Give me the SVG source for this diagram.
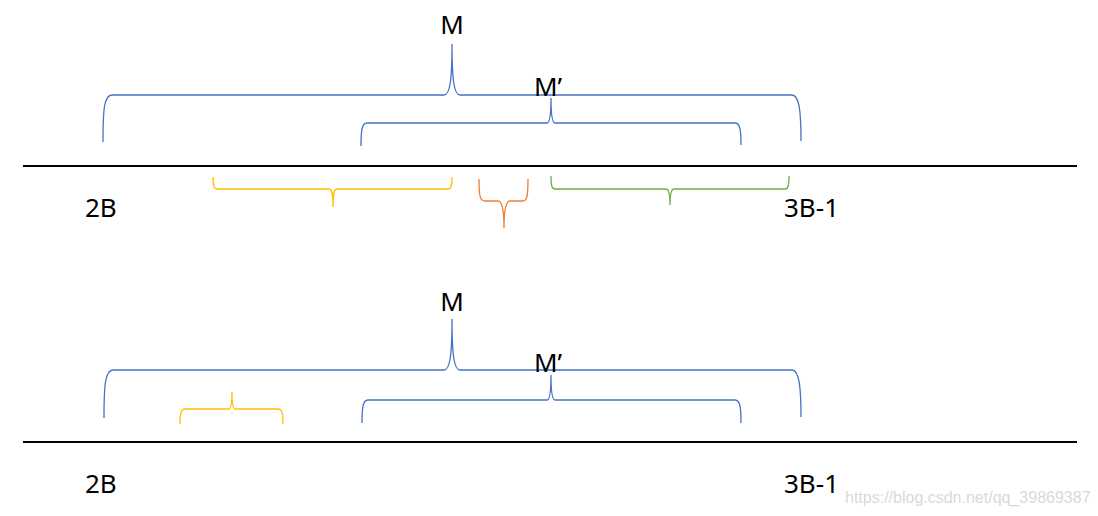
<svg xmlns="http://www.w3.org/2000/svg" width="1098" height="516" viewBox="0 0 1098 516">
<style>
.lbl{font-family:"Noto Sans","Noto Sans CJK SC",sans-serif;font-size:26px;fill:#000}
.br{fill:none;stroke-width:1.3}
.blue{stroke:#4472C4}
.yel{stroke:#FFC000}
.ora{stroke:#ED7D31}
.grn{stroke:#70AD47}
.axis{stroke:#000;stroke-width:2}
.wm{font-family:"Liberation Sans",Arial,sans-serif;font-size:16px;fill:#d9d9d9}
</style>
<rect width="1098" height="516" fill="#fff"/>
<g id="top">
  <g id="axis1"><line class="axis" x1="23" y1="166" x2="1077" y2="166"/></g>
  <g id="braceM1"><path class="br blue" d="M103,142 C103,110 104,95 112,95 L444,95 C450,95 452,80 452,44 C452,80 454,95 460,95 L792,95 C799,95 801,110 801,141"/>
    <text class="lbl" x="452" y="34" text-anchor="middle">M</text></g>
  <g id="braceMp1"><path class="br blue" d="M361,146 C361,130 362,123 367,123 L547,123 C550,123 551,115 551,98 C551,115 552,123 555,123 L735,123 C740,123 741,130 741,145"/>
    <text class="lbl" x="534" y="96">M’</text></g>
  <g id="braceY1"><path class="br yel" d="M213,177 C213,186 214,189 217,189 L329,189 C332,189 333,194 333,207 C333,194 334,189 337,189 L448,189 C451,189 452,186 452,177"/></g>
  <g id="braceO1"><path class="br ora" d="M479,179 C479,196 480,201 485,201 L498,201 C502,201 504,210 504,228 C504,210 506,201 510,201 L523,201 C527,201 528,196 528,179"/></g>
  <g id="braceG1"><path class="br grn" d="M551,176 C551,186 552,189 555,189 L666,189 C669,189 670,194 670,205 C670,194 671,189 674,189 L785,189 C788,189 789,186 789,176"/></g>
  <text class="lbl" x="85" y="217">2B</text>
  <text class="lbl" x="784" y="217">3B-1</text>
</g>
<g id="bottom">
  <g id="axis2"><line class="axis" x1="23" y1="442" x2="1077" y2="442"/></g>
  <g id="braceM2"><path class="br blue" d="M104,418 C104,386 105,370 113,370 L444,370 C450,370 452,355 452,319 C452,355 454,370 460,370 L792,370 C799,370 801,386 801,417"/>
    <text class="lbl" x="452" y="311" text-anchor="middle">M</text></g>
  <g id="braceMp2"><path class="br blue" d="M362,423 C362,407 363,400 368,400 L547,400 C550,400 551,392 551,375 C551,392 552,400 555,400 L735,400 C740,400 741,407 741,423"/>
    <text class="lbl" x="534" y="372">M’</text></g>
  <g id="braceY2"><path class="br yel" d="M180,424 C180,413 181,409 185,409 L229,409 C231,409 232,405 232,392 C232,405 233,409 235,409 L278,409 C282,409 283,413 283,424"/></g>
  <text class="lbl" x="85" y="493">2B</text>
  <text class="lbl" x="784" y="493">3B-1</text>
</g>
<text class="wm" x="845" y="503">https://blog.csdn.net/qq_39869387</text>
</svg>
